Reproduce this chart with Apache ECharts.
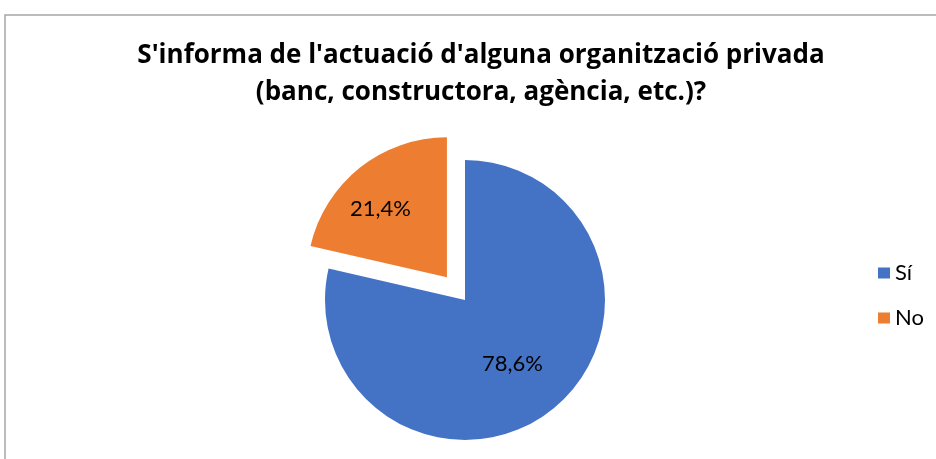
<!DOCTYPE html>
<html>
<head>
<meta charset="utf-8">
<script src="https://cdn.jsdelivr.net/npm/echarts@6/dist/echarts.min.js"></script>
<style>
html,body{margin:0;padding:0;background:#fff;}
#main{width:936px;height:459px;}
</style>
</head>
<body>
<div id="main"></div>
<script>
const titleText = "S'informa de l'actuació d'alguna organització privada\n(banc, constructora, agència, etc.)?";
const categories = ["Sí", "No"];
const values = [78.6, 21.4];
const colors = ["#4472C4", "#ED7D31"];

const chart = echarts.init(document.getElementById('main'), null, {renderer: 'canvas'});
const FONT = 'Lato';
const labelShift = [[2, 7], [-21, -11]];

chart.setOption({
  animation: false,
  backgroundColor: '#ffffff',
  title: {
    text: titleText,
    left: 481,
    top: 37,
    padding: 0,
    textAlign: 'center',
    textStyle: {
      fontFamily: 'Open Sans',
      fontWeight: 'bold',
      fontSize: 26,
      lineHeight: 37,
      color: '#000000'
    }
  },
  legend: {
    orient: 'vertical',
    left: 873,
    top: 257,
    itemWidth: 12,
    itemHeight: 11,
    itemGap: 23,
    icon: 'rect',
    selectedMode: false,
    data: categories,
    textStyle: {fontFamily: FONT, fontSize: 22, color: '#000000', padding: [0, 0, 0, 0]}
  },
  graphic: [{
    type: 'rect',
    shape: {x: 5, y: 15, width: 1200, height: 1200},
    style: {fill: 'none', stroke: '#a6a6a6', lineWidth: 1.5},
    silent: true,
    z: -1
  }],
  series: [{
    type: 'pie',
    center: [465, 300],
    radius: 140,
    startAngle: 90,
    clockwise: true,
    selectedMode: 'single',
    selectedOffset: 29,
    avoidLabelOverlap: false,
    label: {
      show: true,
      position: 'inside',
      fontFamily: FONT,
      fontSize: 22,
      color: '#000000',
      formatter: p => p.value.toFixed(1).replace('.', ',') + '%'
    },
    labelLine: {show: false},
    labelLayout: p => ({dx: labelShift[p.dataIndex][0], dy: labelShift[p.dataIndex][1]}),
    emphasis: {disabled: true},
    select: {itemStyle: {}},
    itemStyle: {borderWidth: 0},
    data: categories.map((c, i) => ({
      name: c,
      value: values[i],
      selected: i === 1,
      itemStyle: {color: colors[i]}
    }))
  }]
});
</script>
</body>
</html>
